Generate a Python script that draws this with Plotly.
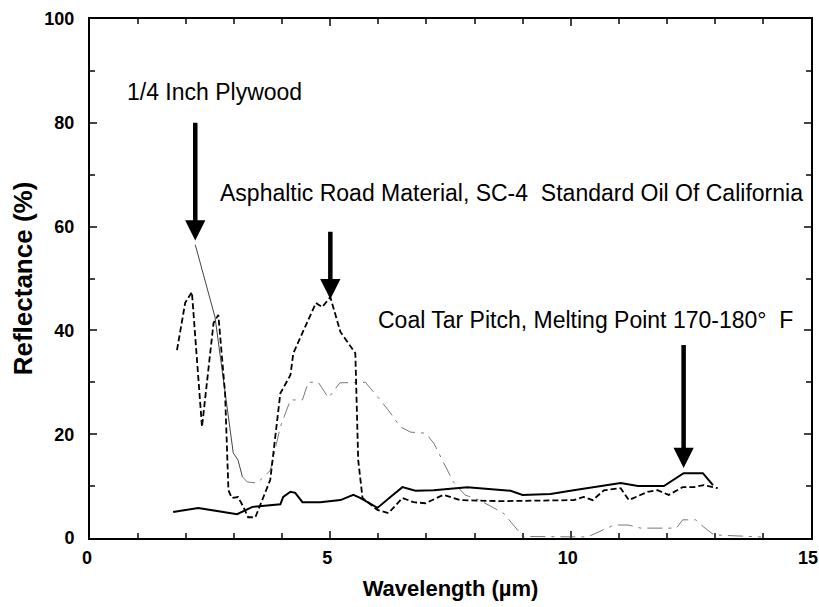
import plotly.graph_objects as go

# 1/4 inch plywood (thin line, solid at first then broken)
ply_x = [2.19, 2.6, 2.98, 3.08, 3.17, 3.27, 3.48, 3.75, 3.96, 4.17, 4.42, 4.54, 4.75, 4.96, 5.2,
         5.6, 5.73, 6.0, 6.2, 6.46, 6.67, 6.98, 7.15, 7.56, 7.8, 8.1, 8.4, 8.6, 8.9, 9.0,
         10.35, 10.9, 11.2, 11.46, 12.2, 12.33, 12.6, 12.77, 12.98, 13.96]
ply_y = [56.5, 42.6, 16.4, 15.0, 11.8, 10.8, 10.6, 13.0, 21.4, 26.6, 26.6, 30.0, 30.0, 27.0, 29.9,
         30.0, 30.0, 27.0, 24.7, 21.4, 20.4, 20.2, 18.3, 10.8, 8.3, 7.3, 5.8, 4.8, 1.5, 0.3,
         0.2, 2.5, 2.5, 1.9, 1.9, 3.5, 3.5, 2.1, 0.6, 0.2]

# Asphaltic road material, SC-4 (thick dashed)
asp_x = [1.81, 1.98, 2.12, 2.33, 2.57, 2.67, 2.81, 2.88, 2.95, 3.08, 3.19, 3.29, 3.44, 3.75, 3.96,
         4.17, 4.23, 4.42, 4.54, 4.7, 4.83, 5.0, 5.21, 5.52, 5.58, 5.67, 5.98, 6.21, 6.5, 6.73,
         6.98, 7.35, 7.71, 8.54, 10.06, 10.27, 10.46, 10.69, 11.04, 11.21, 11.6, 11.81, 12.04,
         12.33, 12.56, 12.77, 13.06]
asp_y = [36.2, 45.3, 47.4, 21.4, 41.4, 43.0, 27.9, 9.2, 7.7, 7.9, 6.0, 4.0, 4.0, 11.2, 27.9,
         31.4, 35.6, 39.7, 42.0, 45.3, 44.5, 46.4, 39.7, 35.6, 15.0, 7.7, 5.4, 4.8, 7.7, 6.9,
         6.7, 8.3, 7.3, 7.1, 7.3, 7.9, 7.3, 9.2, 9.6, 7.3, 8.9, 9.2, 8.3,
         9.8, 9.8, 10.2, 9.6]

# Coal tar pitch (solid)
coal_x = [1.73, 2.25, 3.06, 3.38, 3.96, 4.02, 4.17, 4.27, 4.42, 4.79, 5.21, 5.48, 5.63, 5.98,
          6.25, 6.5, 6.77, 7.15, 7.85, 8.54, 8.75, 9.0, 9.58, 10.06, 10.63, 11.04, 11.4, 11.94,
          12.35, 12.75, 12.96]
coal_y = [5.0, 5.8, 4.6, 6.0, 6.5, 7.9, 8.9, 8.7, 6.9, 6.9, 7.3, 8.3, 7.7, 5.8,
          7.9, 9.8, 9.1, 9.2, 9.8, 9.2, 9.1, 8.3, 8.5, 9.2, 10.0, 10.6, 10.0, 10.0,
          12.5, 12.5, 10.2]

labels = ["1/4 Inch Plywood",
          "Asphaltic Road Material, SC-4  Standard Oil Of California",
          "Coal Tar Pitch, Melting Point 170-180\u00b0  F"]
label_pos = [(0.73, 86.0), (2.67, 66.5), (5.96, 42.0)]
arrows = [(2.19, 80.3, 57.3), (5.0, 59.3, 46.0), (12.35, 37.5, 13.5)]

fig = go.Figure()

fig.add_trace(go.Scatter(x=ply_x[:5], y=ply_y[:5], mode='lines',
                         line=dict(color='#444', width=1), showlegend=False))
fig.add_trace(go.Scatter(x=ply_x[4:], y=ply_y[4:], mode='lines',
                         line=dict(color='#555', width=0.8, dash='longdashdot'), showlegend=False))
fig.add_trace(go.Scatter(x=asp_x, y=asp_y, mode='lines',
                         line=dict(color='black', width=1.8, dash='6px,3px'), showlegend=False))
fig.add_trace(go.Scatter(x=coal_x, y=coal_y, mode='lines',
                         line=dict(color='black', width=2), showlegend=False))

for (ax_, ytop, ytip) in arrows:
    fig.add_annotation(x=ax_, y=ytip, ax=ax_, ay=ytop, xref='x', yref='y', axref='x', ayref='y',
                       text='', showarrow=True, arrowhead=2, arrowsize=0.9, arrowwidth=4.5,
                       arrowcolor='black')

for t, (lx, ly) in zip(labels, label_pos):
    fig.add_annotation(x=lx, y=ly, text=t, showarrow=False, xanchor='left', yanchor='middle',
                       font=dict(size=23, color='black'))

fig.update_layout(
    width=819, height=607,
    margin=dict(l=90, r=8, t=19, b=69),
    plot_bgcolor='white', paper_bgcolor='white',
    font=dict(family='Liberation Sans, Arial, sans-serif', color='black'),
    xaxis=dict(range=[0, 15], dtick=5, ticks='inside', ticklen=7, tickwidth=1.5,
               minor=dict(dtick=1, ticks='inside', ticklen=5),
               showline=True, linecolor='black', linewidth=2, mirror='ticks',
               showgrid=False, zeroline=False, automargin=False, ticklabelstandoff=2,
               ticklabeloverflow='allow', ticklabelshift=-3,
               tickfont=dict(size=18, weight='bold'),
               title=dict(text='Wavelength (\u00b5m)', standoff=14,
                          font=dict(size=22, weight='bold'))),
    yaxis=dict(range=[0, 100], dtick=20, ticks='inside', ticklen=7, tickwidth=1.5,
               minor=dict(dtick=10, ticks='inside', ticklen=5),
               showline=True, linecolor='black', linewidth=2, mirror='ticks',
               showgrid=False, zeroline=False, automargin=False, ticklabelstandoff=10,
               tickfont=dict(size=18, weight='bold'),
               title=dict(text='Reflectance (%)', standoff=4,
                          font=dict(size=26, weight='bold'))),
)

# drop the page's default body margin so the figure fills the window exactly
fig.write_html("out.html", config={"displayModeBar": False},
               post_script="document.body.style.margin='0';document.body.style.overflow='hidden';")
